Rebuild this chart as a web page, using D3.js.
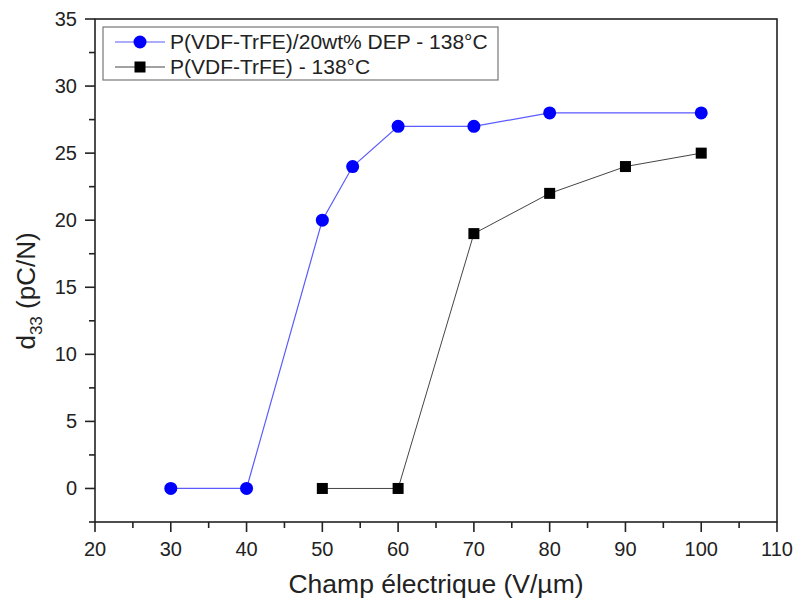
<!DOCTYPE html>
<html><head><meta charset="utf-8">
<script src="https://cdn.jsdelivr.net/npm/d3@7"></script>
<style>body{margin:0;background:#fff}svg{display:block}text{font-family:Arial,"Liberation Sans",sans-serif;fill:#222}</style>
</head><body>
<svg id="c" width="798" height="608"></svg>
<script>
const xTicks = [20,30,40,50,60,70,80,90,100,110];
const yTicks = [0,5,10,15,20,25,30,35];
const blueX = [30,40,50,54,60,70,80,100];
const blueY = [0,0,20,24,27,27,28,28];
const blackX = [50,60,70,80,90,100];
const blackY = [0,0,19,22,24,25];
const seriesNames = ["P(VDF-TrFE)/20wt% DEP - 138°C", "P(VDF-TrFE) - 138°C"];

const svg = d3.select("#c");
const L=95, R=777, T=19, B=522;
const x = d3.scaleLinear().domain([20,110]).range([L,R]);
const y = d3.scaleLinear().domain([-2.5,35]).range([B,T]);

// frame
svg.append("rect").attr("x",L).attr("y",T).attr("width",R-L).attr("height",B-T)
  .attr("fill","none").attr("stroke","#222").attr("stroke-width",1.6);

// x axis
const xMinor = d3.range(25,110,10);
const gx = svg.append("g");
gx.selectAll("line.maj").data(xTicks).join("line")
  .attr("x1",d=>x(d)).attr("x2",d=>x(d)).attr("y1",B).attr("y2",B+10)
  .attr("stroke","#222").attr("stroke-width",1.6);
gx.selectAll("line.min").data(xMinor).join("line")
  .attr("x1",d=>x(d)).attr("x2",d=>x(d)).attr("y1",B).attr("y2",B+6)
  .attr("stroke","#222").attr("stroke-width",1.6);
gx.selectAll("text").data(xTicks).join("text")
  .attr("x",d=>x(d)).attr("y",556).attr("text-anchor","middle")
  .attr("font-size",20).text(d=>d);

// y axis
const yMinor = d3.range(-2.5,35,5);
const gy = svg.append("g");
gy.selectAll("line.maj").data(yTicks).join("line")
  .attr("y1",d=>y(d)).attr("y2",d=>y(d)).attr("x1",L).attr("x2",L-10)
  .attr("stroke","#222").attr("stroke-width",1.6);
gy.selectAll("line.min").data(yMinor).join("line")
  .attr("y1",d=>y(d)).attr("y2",d=>y(d)).attr("x1",L).attr("x2",L-6)
  .attr("stroke","#222").attr("stroke-width",1.6);
gy.selectAll("text").data(yTicks).join("text")
  .attr("x",77).attr("y",d=>y(d)+7).attr("text-anchor","end")
  .attr("font-size",20).text(d=>d);

// axis titles
svg.append("text").attr("x",436).attr("y",593).attr("text-anchor","middle")
  .attr("font-size",26.5).text("Champ électrique (V/µm)");
const yt = svg.append("text").attr("transform","translate(35,291) rotate(-90)")
  .attr("text-anchor","middle").attr("font-size",26);
yt.append("tspan").text("d");
yt.append("tspan").attr("font-size",17).attr("dy",7).text("33");
yt.append("tspan").attr("dy",-7).text(" (pC/N)");

const line = d3.line().x(d=>x(d[0])).y(d=>y(d[1]));
const blue = blueX.map((v,i)=>[v,blueY[i]]);
const black = blackX.map((v,i)=>[v,blackY[i]]);

svg.append("path").attr("d",line(black)).attr("fill","none").attr("stroke","#444").attr("stroke-width",1);
svg.append("path").attr("d",line(blue)).attr("fill","none").attr("stroke","#5a5aff").attr("stroke-width",1.2);
svg.selectAll("rect.sq").data(black).join("rect")
  .attr("x",d=>x(d[0])-5.5).attr("y",d=>y(d[1])-5.5).attr("width",11).attr("height",11).attr("fill","#000");
svg.selectAll("circle.bc").data(blue).join("circle")
  .attr("cx",d=>x(d[0])).attr("cy",d=>y(d[1])).attr("r",6.5).attr("fill","#0000ff");

// legend
const lg = svg.append("g");
lg.append("rect").attr("x",103).attr("y",27).attr("width",395).attr("height",53)
  .attr("fill","#fff").attr("stroke","#777").attr("stroke-width",1.2);
const rows = [{c:"#5a5aff", m:"circle", yy:42},{c:"#444", m:"square", yy:67}];
rows.forEach((r,i)=>{
  lg.append("line").attr("x1",115).attr("x2",165).attr("y1",r.yy).attr("y2",r.yy).attr("stroke",r.c).attr("stroke-width",1.2);
  if(r.m==="circle") lg.append("circle").attr("cx",140).attr("cy",r.yy).attr("r",6.5).attr("fill","#0000ff");
  else lg.append("rect").attr("x",134.5).attr("y",r.yy-5.5).attr("width",11).attr("height",11).attr("fill","#000");
  lg.append("text").attr("x",170).attr("y",r.yy+7).attr("font-size",21).text(seriesNames[i]);
});
</script>
</body></html>
